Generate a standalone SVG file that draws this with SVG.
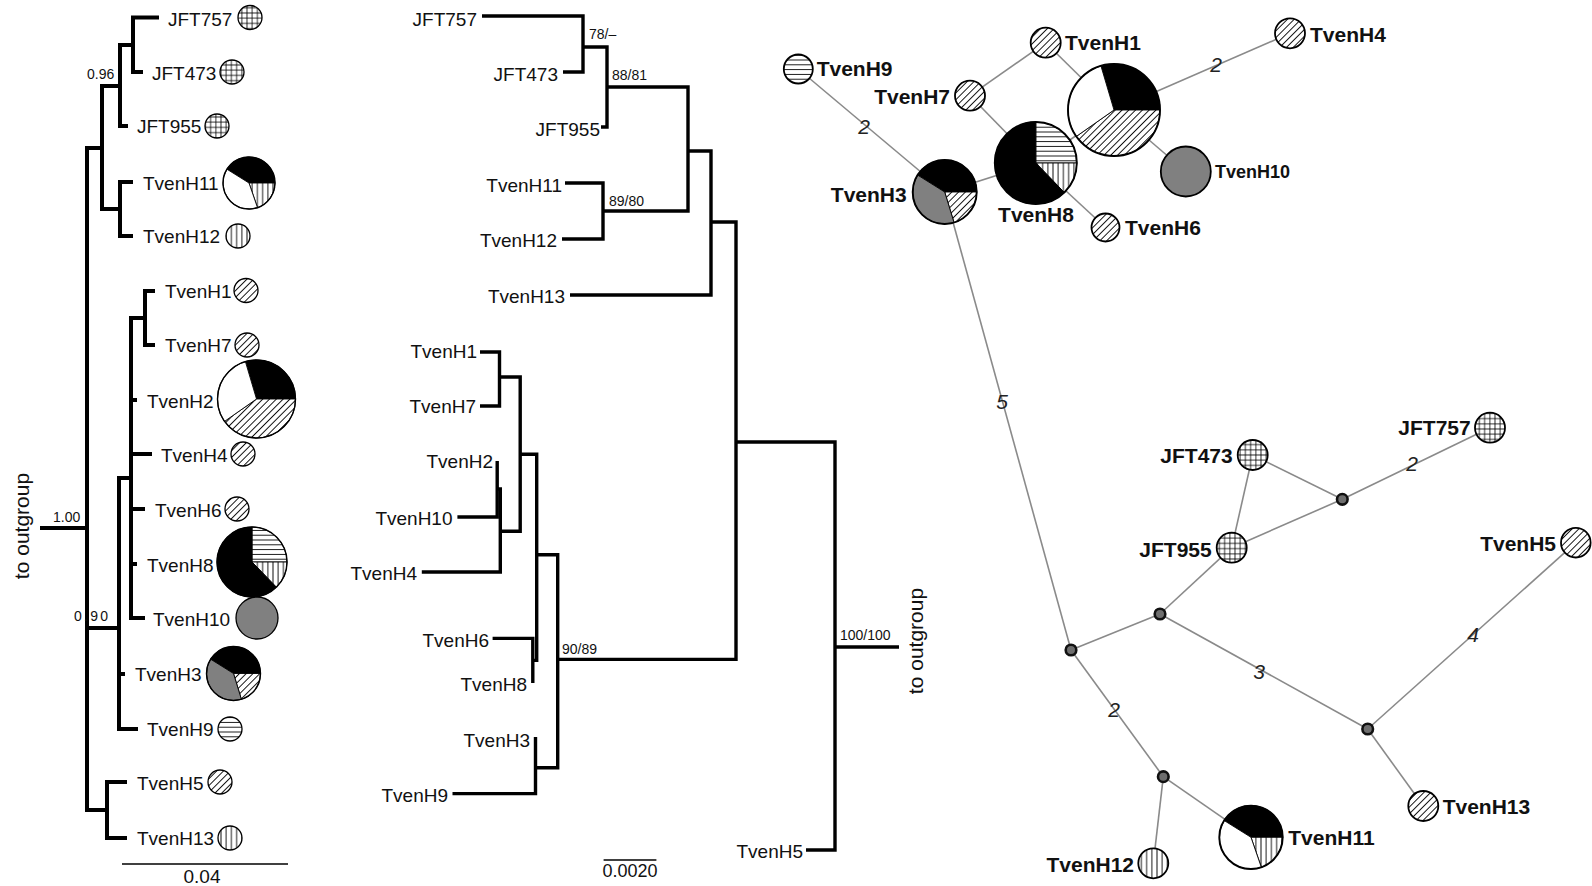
<svg xmlns="http://www.w3.org/2000/svg" width="1592" height="886" viewBox="0 0 1592 886">
  <defs>
    <pattern id="hatch" patternUnits="userSpaceOnUse" width="4.8" height="4.8" patternTransform="rotate(45)">
      <rect width="4.8" height="4.8" fill="#fff"/>
      <line x1="2.4" y1="0" x2="2.4" y2="4.8" stroke="#000" stroke-width="0.9"/>
    </pattern>
    <pattern id="hlines" patternUnits="userSpaceOnUse" width="5" height="4.8">
      <rect width="5" height="4.8" fill="#fff"/>
      <line x1="0" y1="2.4" x2="5" y2="2.4" stroke="#000" stroke-width="0.9"/>
    </pattern>
    <pattern id="vlines" patternUnits="userSpaceOnUse" width="5.2" height="5">
      <rect width="5.2" height="5" fill="#fff"/>
      <line x1="2.6" y1="0" x2="2.6" y2="5" stroke="#000" stroke-width="0.9"/>
    </pattern>
    <pattern id="grid" patternUnits="userSpaceOnUse" width="5.2" height="5.2">
      <rect width="5.2" height="5.2" fill="#fff"/>
      <line x1="2.6" y1="0" x2="2.6" y2="5.2" stroke="#000" stroke-width="0.8"/>
      <line x1="0" y1="2.6" x2="5.2" y2="2.6" stroke="#000" stroke-width="0.8"/>
    </pattern>
  </defs>
  <style>
    text { font-family: "Liberation Sans", Arial, Helvetica, sans-serif; fill: #111; }
    .lbl { font-size: 19px; }
    .end { text-anchor: end; }
    .sup { font-size: 14px; }
    .nl { font-size: 21px; font-weight: bold; }
    .nl10 { font-size: 18px; font-weight: bold; }
    .num { font-size: 21px; font-style: italic; text-anchor: middle; fill: #222; }
    .br1 { fill: none; stroke: #000; stroke-width: 4; stroke-linejoin: miter; stroke-linecap: butt; }
    .br2 { fill: none; stroke: #000; stroke-width: 3.4; stroke-linejoin: miter; stroke-linecap: butt; }
    .scale { stroke: #000; stroke-width: 1.3; }
    .edge { stroke: #8a8a8a; stroke-width: 1.6; fill: none; }
    .sym { stroke: #000; stroke-width: 1.3; }
    .nsym { stroke: #000; stroke-width: 1.8; }
    .sec { stroke: #000; stroke-width: 0.9; }
    .ring { fill: none; stroke: #000; stroke-width: 1.4; }
    .nring { fill: none; stroke: #000; stroke-width: 1.9; }
    .mv { fill: #6e6e6e; stroke: #111; stroke-width: 2.6; }
    .k { fill: #000; }
    .w { fill: #fff; }
    .g { fill: #808080; }
    .ha { fill: url(#hatch); }
    .hl { fill: url(#hlines); }
    .vl { fill: url(#vlines); }
    .gr { fill: url(#grid); }
  </style>

  <!-- ===== Panel 1: Bayesian tree with haplotype frequency symbols ===== -->
  <g id="t1-branches">
    <path class="br1" d="M40 528 H87"/>
    <path class="br1" d="M102 148 H87 V810 H107"/>
    <path class="br1" d="M120 86 H102 V209 H120"/>
    <path class="br1" d="M133 45 H120 V126 H128"/>
    <path class="br1" d="M159 17.5 H133 V72 H143"/>
    <path class="br1" d="M133 182 H120 V236 H133"/>
    <path class="br1" d="M87 628 H119"/>
    <path class="br1" d="M131 478 H119 V729 H138"/>
    <path class="br1" d="M119 674 H125"/>
    <path class="br1" d="M145 318 H131 V618 H145"/>
    <path class="br1" d="M155 291 H145 V345 H155"/>
    <path class="br1" d="M131 400 H137 M131 454 H152 M131 509 H145 M131 564 H137"/>
    <path class="br1" d="M127 782 H107 V838 H127"/>
  </g>
  <g id="t1-support">
    <text class="sup" x="87" y="79">0.96</text>
    <text class="sup" x="53" y="521.5">1.00</text>
    <text class="sup" x="74" y="621" textLength="34" lengthAdjust="spacing">0.90</text>
  </g>
  <g id="t1-outgroup">
    <text class="lbl" style="font-size:21px" text-anchor="middle" transform="translate(29 526) rotate(-90)">to outgroup</text>
  </g>
  <g id="t1-scale">
    <line class="scale" x1="122" y1="864" x2="288" y2="864"/>
    <text class="lbl" x="202" y="883" text-anchor="middle">0.04</text>
  </g>

  <g id="t1-JFT757"><text class="lbl" x="168" y="26">JFT757</text><circle class="sym gr" cx="250" cy="17.5" r="12"/></g>
  <g id="t1-JFT473"><text class="lbl" x="152" y="80">JFT473</text><circle class="sym gr" cx="232" cy="72" r="12"/></g>
  <g id="t1-JFT955"><text class="lbl" x="137" y="133.3">JFT955</text><circle class="sym gr" cx="217" cy="126" r="12"/></g>
  <g id="t1-TvenH11">
    <text class="lbl" x="143" y="190">TvenH11</text>
    <path class="sec k" d="M249 183 L226.95 169.22 A26 26 0 0 1 275 183 Z"/>
    <path class="sec vl" d="M249 183 L275 183 A26 26 0 0 1 257.48 207.6 Z"/>
    <path class="sec w" d="M249 183 L257.48 207.6 A26 26 0 0 1 226.95 169.22 Z"/>
    <circle class="ring" cx="249" cy="183" r="26"/>
  </g>
  <g id="t1-TvenH12"><text class="lbl" x="143" y="243.3">TvenH12</text><circle class="sym vl" cx="238" cy="236" r="12"/></g>
  <g id="t1-TvenH1"><text class="lbl" x="165" y="298.3">TvenH1</text><circle class="sym ha" cx="246" cy="290.5" r="12"/></g>
  <g id="t1-TvenH7"><text class="lbl" x="165" y="352.3">TvenH7</text><circle class="sym ha" cx="247" cy="345" r="12"/></g>
  <g id="t1-TvenH2">
    <text class="lbl" x="147" y="408.3">TvenH2</text>
    <path class="sec k" d="M256.5 399 L245.42 361.6 A39 39 0 0 1 295.5 399 Z"/>
    <path class="sec ha" d="M256.5 399 L295.5 399 A39 39 0 0 1 224.56 421.39 Z"/>
    <path class="sec w" d="M256.5 399 L224.56 421.39 A39 39 0 0 1 245.42 361.6 Z"/>
    <circle class="ring" cx="256.5" cy="399" r="39"/>
  </g>
  <g id="t1-TvenH4"><text class="lbl" x="161" y="461.7">TvenH4</text><circle class="sym ha" cx="243" cy="454" r="12"/></g>
  <g id="t1-TvenH6"><text class="lbl" x="155" y="516.7">TvenH6</text><circle class="sym ha" cx="237" cy="509" r="12"/></g>
  <g id="t1-TvenH8">
    <text class="lbl" x="147" y="571.7">TvenH8</text>
    <path class="sec hl" d="M252 562 L252 527 A35 35 0 0 1 287 562 Z"/>
    <path class="sec vl" d="M252 562 L287 562 A35 35 0 0 1 276.33 587.17 Z"/>
    <path class="sec k" d="M252 562 L276.33 587.17 A35 35 0 1 1 252 527 Z"/>
    <circle class="ring" cx="252" cy="562" r="35"/>
  </g>
  <g id="t1-TvenH10"><text class="lbl" x="153" y="626">TvenH10</text><circle class="sym g" cx="257" cy="618" r="21"/></g>
  <g id="t1-TvenH3">
    <text class="lbl" x="135" y="680.7">TvenH3</text>
    <path class="sec k" d="M233.5 673.5 L210.6 659.19 A27 27 0 0 1 260.5 673.5 Z"/>
    <path class="sec ha" d="M233.5 673.5 L260.5 673.5 A27 27 0 0 1 241.38 699.32 Z"/>
    <path class="sec g" d="M233.5 673.5 L241.38 699.32 A27 27 0 0 1 210.6 659.19 Z"/>
    <circle class="ring" cx="233.5" cy="673.5" r="27"/>
  </g>
  <g id="t1-TvenH9"><text class="lbl" x="147" y="736">TvenH9</text><circle class="sym hl" cx="230" cy="729" r="12"/></g>
  <g id="t1-TvenH5"><text class="lbl" x="137" y="790">TvenH5</text><circle class="sym ha" cx="220" cy="782" r="12"/></g>
  <g id="t1-TvenH13"><text class="lbl" x="137" y="845">TvenH13</text><circle class="sym vl" cx="230" cy="838" r="12"/></g>

  <!-- ===== Panel 2: ML tree ===== -->
  <g id="t2-branches">
    <path class="br2" d="M482 16 H583 V72 H563"/>
    <path class="br2" d="M583 47 H607 V127 H601"/>
    <path class="br2" d="M607 87 H688 V211 H603"/>
    <path class="br2" d="M565 183 H603 V239 H562"/>
    <path class="br2" d="M688 151 H711 V295 H570"/>
    <path class="br2" d="M711 222 H736 V659.4 H557.7"/>
    <path class="br2" d="M736 442 H835 V850 H806"/>
    <path class="br2" d="M835 647 H899"/>
    <path class="br2" d="M536.7 554.7 H557.7 V767.7 H535.5"/>
    <path class="br2" d="M535.5 737 V793.6 H452.5"/>
    <path class="br2" d="M520.2 454.3 H536.7 V660.4 H532.8"/>
    <path class="br2" d="M492.6 638.4 H532.8 V683"/>
    <path class="br2" d="M480 352 H499.5 V406 H480"/>
    <path class="br2" d="M499.5 377 H520.2 V531.2 H500.3"/>
    <path class="br2" d="M497.2 461 V517 H457.4"/>
    <path class="br2" d="M497.2 489 H500.3 V572 H421.8"/>
  </g>
  <g id="t2-support">
    <text class="sup" x="589" y="39">78/–</text>
    <text class="sup" x="612" y="80">88/81</text>
    <text class="sup" x="609" y="206">89/80</text>
    <text class="sup" x="562" y="654">90/89</text>
    <text class="sup" x="840" y="639.5">100/100</text>
  </g>
  <g id="t2-outgroup">
    <text class="lbl" style="font-size:21px" text-anchor="middle" transform="translate(923 641) rotate(-90)">to outgroup</text>
  </g>
  <g id="t2-scale">
    <line class="scale" x1="603.6" y1="860" x2="656.4" y2="860"/>
    <text class="lbl" style="font-size:18px" x="630" y="877" text-anchor="middle">0.0020</text>
  </g>

  <g id="t2-JFT757"><text class="lbl end" x="477" y="26">JFT757</text></g>
  <g id="t2-JFT473"><text class="lbl end" x="558" y="81">JFT473</text></g>
  <g id="t2-JFT955"><text class="lbl end" x="600" y="136">JFT955</text></g>
  <g id="t2-TvenH11"><text class="lbl end" x="562" y="191.7">TvenH11</text></g>
  <g id="t2-TvenH12"><text class="lbl end" x="557" y="246.7">TvenH12</text></g>
  <g id="t2-TvenH13"><text class="lbl end" x="565" y="302.7">TvenH13</text></g>
  <g id="t2-TvenH1"><text class="lbl end" x="477" y="358">TvenH1</text></g>
  <g id="t2-TvenH7"><text class="lbl end" x="476" y="413">TvenH7</text></g>
  <g id="t2-TvenH2"><text class="lbl end" x="493" y="468">TvenH2</text></g>
  <g id="t2-TvenH10"><text class="lbl end" x="452.5" y="525">TvenH10</text></g>
  <g id="t2-TvenH4"><text class="lbl end" x="417" y="580">TvenH4</text></g>
  <g id="t2-TvenH6"><text class="lbl end" x="489" y="646.7">TvenH6</text></g>
  <g id="t2-TvenH8"><text class="lbl end" x="527" y="690.8">TvenH8</text></g>
  <g id="t2-TvenH3"><text class="lbl end" x="530" y="746.7">TvenH3</text></g>
  <g id="t2-TvenH9"><text class="lbl end" x="448" y="802">TvenH9</text></g>
  <g id="t2-TvenH5"><text class="lbl end" x="803" y="858">TvenH5</text></g>

  <!-- ===== Panel 3: haplotype network ===== -->
  <g id="net-edges">
    <line class="edge" x1="798.3" y1="69" x2="944.7" y2="192"/>
    <line class="edge" x1="944.7" y1="192" x2="1035.8" y2="163"/>
    <line class="edge" x1="1035.8" y1="163" x2="970" y2="95.7"/>
    <line class="edge" x1="970" y1="95.7" x2="1045.7" y2="42.7"/>
    <line class="edge" x1="1045.7" y1="42.7" x2="1114" y2="110"/>
    <line class="edge" x1="1114" y1="110" x2="1035.8" y2="163"/>
    <line class="edge" x1="1114" y1="110" x2="1290" y2="33.3"/>
    <line class="edge" x1="1114" y1="110" x2="1185.8" y2="171.5"/>
    <line class="edge" x1="1035.8" y1="163" x2="1105.5" y2="227.5"/>
    <line class="edge" x1="944.7" y1="192" x2="1071" y2="650"/>
    <line class="edge" x1="1071" y1="650" x2="1160" y2="614"/>
    <line class="edge" x1="1160" y1="614" x2="1231.7" y2="547.7"/>
    <line class="edge" x1="1231.7" y1="547.7" x2="1252.7" y2="455"/>
    <line class="edge" x1="1231.7" y1="547.7" x2="1342.3" y2="499.3"/>
    <line class="edge" x1="1252.7" y1="455" x2="1342.3" y2="499.3"/>
    <line class="edge" x1="1342.3" y1="499.3" x2="1490" y2="427.7"/>
    <line class="edge" x1="1160" y1="614" x2="1367.7" y2="729"/>
    <line class="edge" x1="1367.7" y1="729" x2="1575.8" y2="542.7"/>
    <line class="edge" x1="1367.7" y1="729" x2="1423.3" y2="806"/>
    <line class="edge" x1="1071" y1="650" x2="1163.3" y2="776.7"/>
    <line class="edge" x1="1163.3" y1="776.7" x2="1153.3" y2="863.3"/>
    <line class="edge" x1="1163.3" y1="776.7" x2="1251" y2="837.3"/>
  </g>
  <g id="net-steps">
    <text class="num" x="864" y="133.5">2</text>
    <text class="num" x="1216" y="72">2</text>
    <text class="num" x="1002" y="409">5</text>
    <text class="num" x="1412" y="470.5">2</text>
    <text class="num" x="1259" y="679">3</text>
    <text class="num" x="1473" y="641.5">4</text>
    <text class="num" x="1114" y="716.5">2</text>
  </g>

  <g id="net-mv1"><circle class="mv" cx="1071" cy="650" r="5.3"/></g>
  <g id="net-mv2"><circle class="mv" cx="1160" cy="614" r="5.3"/></g>
  <g id="net-mv3"><circle class="mv" cx="1342.3" cy="499.3" r="5.3"/></g>
  <g id="net-mv4"><circle class="mv" cx="1367.7" cy="729" r="5.3"/></g>
  <g id="net-mv5"><circle class="mv" cx="1163.3" cy="776.7" r="5.3"/></g>

  <g id="net-TvenH9"><circle class="nsym hl" cx="798.3" cy="69" r="14.5"/><text class="nl" x="816.7" y="76">TvenH9</text></g>
  <g id="net-TvenH7"><circle class="nsym ha" cx="970" cy="95.7" r="15"/><text class="nl end" x="950" y="104">TvenH7</text></g>
  <g id="net-TvenH1"><circle class="nsym ha" cx="1045.7" cy="42.7" r="15"/><text class="nl" x="1065" y="50">TvenH1</text></g>
  <g id="net-TvenH4"><circle class="nsym ha" cx="1290" cy="33.3" r="15"/><text class="nl" x="1310" y="41.7">TvenH4</text></g>
  <g id="net-TvenH2">
    <path class="sec k" d="M1114 110 L1100.94 65.89 A46 46 0 0 1 1160 110 Z"/>
    <path class="sec ha" d="M1114 110 L1160 110 A46 46 0 0 1 1076.33 136.4 Z"/>
    <path class="sec w" d="M1114 110 L1076.33 136.4 A46 46 0 0 1 1100.94 65.89 Z"/>
    <circle class="nring" cx="1114" cy="110" r="46"/>
  </g>
  <g id="net-TvenH10"><circle class="nsym g" cx="1185.8" cy="171.5" r="25"/><text class="nl10" x="1215" y="178">TvenH10</text></g>
  <g id="net-TvenH8">
    <path class="sec hl" d="M1035.8 163 L1035.8 122 A41 41 0 0 1 1076.8 163 Z"/>
    <path class="sec vl" d="M1035.8 163 L1076.8 163 A41 41 0 0 1 1064.3 192.48 Z"/>
    <path class="sec k" d="M1035.8 163 L1064.3 192.48 A41 41 0 1 1 1035.8 122 Z"/>
    <circle class="nring" cx="1035.8" cy="163" r="41"/>
    <text class="nl" x="1036" y="221.7" text-anchor="middle">TvenH8</text>
  </g>
  <g id="net-TvenH3">
    <path class="sec k" d="M944.7 192 L917.56 175.04 A32 32 0 0 1 976.7 192 Z"/>
    <path class="sec ha" d="M944.7 192 L976.7 192 A32 32 0 0 1 954.04 222.6 Z"/>
    <path class="sec g" d="M944.7 192 L954.04 222.6 A32 32 0 0 1 917.56 175.04 Z"/>
    <circle class="nring" cx="944.7" cy="192" r="32"/>
    <text class="nl end" x="906.7" y="201.7">TvenH3</text>
  </g>
  <g id="net-TvenH6"><circle class="nsym ha" cx="1105.5" cy="227.5" r="14"/><text class="nl" x="1125" y="235">TvenH6</text></g>
  <g id="net-JFT757"><circle class="nsym gr" cx="1490" cy="427.7" r="15"/><text class="nl end" x="1470.7" y="435">JFT757</text></g>
  <g id="net-JFT473"><circle class="nsym gr" cx="1252.7" cy="455" r="15"/><text class="nl end" x="1232.7" y="463.3">JFT473</text></g>
  <g id="net-JFT955"><circle class="nsym gr" cx="1231.7" cy="547.7" r="15"/><text class="nl end" x="1211.7" y="556.7">JFT955</text></g>
  <g id="net-TvenH5"><circle class="nsym ha" cx="1575.8" cy="542.7" r="14.8"/><text class="nl end" x="1556" y="550.7">TvenH5</text></g>
  <g id="net-TvenH13"><circle class="nsym ha" cx="1423.3" cy="806" r="15"/><text class="nl" x="1442.7" y="814.3">TvenH13</text></g>
  <g id="net-TvenH12"><circle class="nsym vl" cx="1153.3" cy="863.3" r="15"/><text class="nl end" x="1134" y="871.7">TvenH12</text></g>
  <g id="net-TvenH11">
    <path class="sec k" d="M1251 837.3 L1224.12 820.5 A31.7 31.7 0 0 1 1282.7 837.3 Z"/>
    <path class="sec vl" d="M1251 837.3 L1282.7 837.3 A31.7 31.7 0 0 1 1261.33 867.29 Z"/>
    <path class="sec w" d="M1251 837.3 L1261.33 867.29 A31.7 31.7 0 0 1 1224.12 820.5 Z"/>
    <circle class="nring" cx="1251" cy="837.3" r="31.7"/>
    <text class="nl" x="1288.3" y="845">TvenH11</text>
  </g>
</svg>
